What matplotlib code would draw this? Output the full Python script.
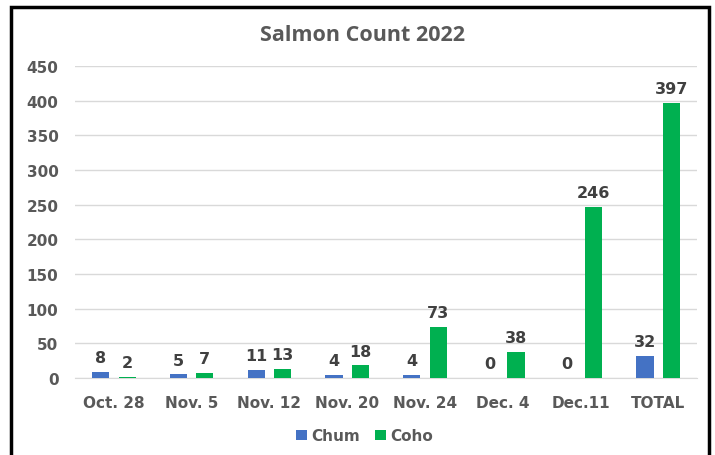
import matplotlib.pyplot as plt
import matplotlib.patches as patches
import numpy as np

dates = ["Oct. 28", "Nov. 5", "Nov. 12", "Nov. 20", "Nov. 24", "Dec. 4", "Dec.11", "TOTAL"]
chum = [8, 5, 11, 4, 4, 0, 0, 32]
coho = [2, 7, 13, 18, 73, 38, 246, 397]

blue = "#4472C4"
green = "#00B050"
grey = "#595959"

fig = plt.figure(figsize=(7.15, 4.56), dpi=100)
ax = fig.add_axes([0.105, 0.169, 0.870, 0.684])

x = np.arange(len(dates))
w = 0.22
off = 0.17
b1 = ax.bar(x - off, chum, w, color=blue, label="Chum", zorder=3)
b2 = ax.bar(x + off, coho, w, color=green, label="Coho", zorder=3)

for bars in (b1, b2):
    for b in bars:
        h = b.get_height()
        ax.text(b.get_x() + b.get_width() / 2, h + 10, str(int(h)),
                ha="center", va="bottom", fontsize=11.5, fontweight="bold", color="#404040")

ax.set_xlim(-0.5, len(dates) - 0.5)
ax.set_ylim(0, 450)
ax.set_yticks(range(0, 451, 50))
ax.set_xticks(x)
ax.set_xticklabels(dates)
ax.yaxis.grid(True, color="#D9D9D9", linewidth=1, zorder=0)
for s in ax.spines.values():
    s.set_visible(False)
ax.spines["bottom"].set_visible(True)
ax.spines["bottom"].set_color("#D9D9D9")
ax.tick_params(length=0, colors=grey, labelsize=11, pad=12)
ax.tick_params(axis="y", pad=12)
for lbl in ax.get_xticklabels() + ax.get_yticklabels():
    lbl.set_fontweight("bold")

fig.text(0.507, 0.923, "Salmon Count 2022", ha="center", va="center",
         fontsize=15.5, fontweight="bold", color=grey, family="Open Sans")

fig.legend(handles=[b1, b2], loc="center", bbox_to_anchor=(0.51, 0.042), ncol=2,
           frameon=False, handlelength=0.7, handleheight=0.7, handletextpad=0.3,
           columnspacing=1.0, prop={"weight": "bold", "size": 11}, labelcolor=grey)

# black frame around the chart
fig.patches.append(patches.Rectangle((0.016, -0.05), 0.975, 1.032, transform=fig.transFigure,
                                     fill=False, edgecolor="black", linewidth=2.5))

fig.savefig("out.png", dpi=100)
